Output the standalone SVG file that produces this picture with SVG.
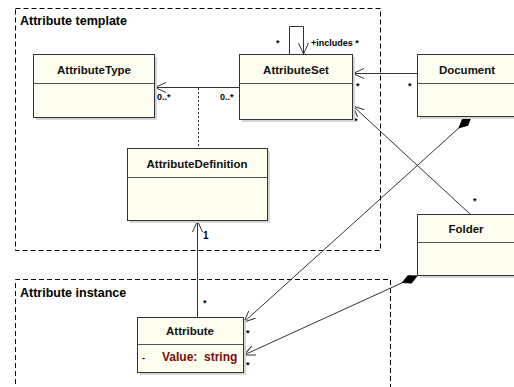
<svg xmlns="http://www.w3.org/2000/svg" width="514" height="387" viewBox="0 0 514 387">
<style>
.frame{fill:none;stroke:#000;stroke-width:1;stroke-dasharray:5,3}
.box{fill:#fdfdf0;stroke:#333;stroke-width:1}
.shadow{fill:#d4d4d4}
.div{stroke:#555;stroke-width:1}
.t{font-family:"Liberation Sans",Arial,sans-serif;font-size:11.5px;font-weight:bold;fill:#111}
.ft{font-family:"Liberation Sans",Arial,sans-serif;font-size:12.5px;font-weight:bold;fill:#000}
.m{font-family:"Liberation Sans",Arial,sans-serif;font-size:9px;font-weight:bold;fill:#000}
.line{fill:none;stroke:#333;stroke-width:1}
.dot{fill:none;stroke:#333;stroke-width:1;stroke-dasharray:2,2}
.attr{font-family:"Liberation Sans",Arial,sans-serif;font-size:12px;font-weight:bold;fill:#7a0a0a;white-space:pre}
</style>
<defs>
<marker id="open" markerWidth="12" markerHeight="12" refX="11" refY="6" orient="auto" markerUnits="userSpaceOnUse">
<path d="M0,1 L11,6 L0,11" fill="none" stroke="#333" stroke-width="1"/>
</marker>
<marker id="dia" markerWidth="18" markerHeight="10" refX="1" refY="5" orient="auto" markerUnits="userSpaceOnUse">
<path d="M1,5 L9,1 L17,5 L9,9 Z" fill="#000" stroke="#000"/>
</marker>
</defs>
<rect width="514" height="387" fill="#fff"/>

<g id="frame-template">
<rect class="frame" x="15.5" y="8.5" width="365" height="242"/>
<text class="ft" x="20" y="25">Attribute template</text>
</g>
<g id="frame-instance">
<path class="frame" d="M15.5,392 V279.5 H390.5 V392"/>
<text class="ft" x="20" y="297">Attribute instance</text>
</g>

<g id="connectors">
<path class="line" d="M240,87.5 H155" marker-end="url(#open)"/>
<text class="m" x="157" y="100">0..*</text>
<text class="m" x="220" y="100">0..*</text>
<path class="dot" d="M198.5,88 V148"/>
<path class="line" d="M289.5,54 V26.5 H303.5 V54" marker-end="url(#open)"/>
<text class="m" x="276" y="46">*</text>
<text class="m" x="311" y="46">+includes *</text>
<path class="line" d="M418,73.5 H353" marker-end="url(#open)"/>
<text class="m" x="356" y="89">*</text>
<text class="m" x="408" y="89">*</text>
<path class="line" d="M470,214 L353,106" marker-end="url(#open)"/>
<text class="m" x="354" y="124">*</text>
<text class="m" x="473" y="204">*</text>
<path class="line" d="M197.5,317 V221" marker-end="url(#open)"/>
<text class="m" x="203" y="239" style="font-size:10px">1</text>
<text class="m" x="203" y="306">*</text>
<path class="line" d="M471,117 L244,322" marker-start="url(#dia)" marker-end="url(#open)"/>
<text class="m" x="246" y="336">*</text>
<path class="line" d="M417,276 L244,355" marker-start="url(#dia)" marker-end="url(#open)"/>
<text class="m" x="246" y="368">*</text>
</g>

<g id="AttributeType">
<rect class="shadow" x="36" y="57" width="121" height="63"/>
<rect class="box" x="33.5" y="54.5" width="121" height="63"/>
<line class="div" x1="33.5" y1="83.5" x2="154.5" y2="83.5"/>
<text class="t" x="94" y="74" text-anchor="middle">AttributeType</text>
</g>

<g id="AttributeSet">
<rect class="shadow" x="242" y="57" width="113" height="65"/>
<rect class="box" x="239.5" y="54.5" width="113" height="65"/>
<line class="div" x1="239.5" y1="83.5" x2="352.5" y2="83.5"/>
<text class="t" x="296" y="74" text-anchor="middle">AttributeSet</text>
</g>

<g id="Document">
<rect class="shadow" x="420" y="57" width="100" height="62"/>
<rect class="box" x="417.5" y="54.5" width="100" height="62"/>
<line class="div" x1="417.5" y1="83.5" x2="517" y2="83.5"/>
<text class="t" x="467" y="74" text-anchor="middle">Document</text>
</g>

<g id="AttributeDefinition">
<rect class="shadow" x="130" y="151" width="140" height="72"/>
<rect class="box" x="127.5" y="148.5" width="140" height="72"/>
<line class="div" x1="127.5" y1="177.5" x2="267.5" y2="177.5"/>
<text class="t" x="197" y="168" text-anchor="middle">AttributeDefinition</text>
</g>

<g id="Folder">
<rect class="shadow" x="420" y="217" width="100" height="61"/>
<rect class="box" x="417.5" y="214.5" width="100" height="61"/>
<line class="div" x1="417.5" y1="242.5" x2="517" y2="242.5"/>
<text class="t" x="466" y="233" text-anchor="middle">Folder</text>
</g>

<g id="Attribute">
<rect class="shadow" x="140" y="320" width="106" height="55"/>
<rect class="box" x="137.5" y="317.5" width="106" height="55"/>
<line class="div" x1="137.5" y1="344.5" x2="243.5" y2="344.5"/>
<text class="t" x="190" y="335" text-anchor="middle">Attribute</text>
<text class="m" x="142" y="361">-</text>
<text class="attr" x="162" y="361" xml:space="preserve">Value:  string</text>
</g>
</svg>
